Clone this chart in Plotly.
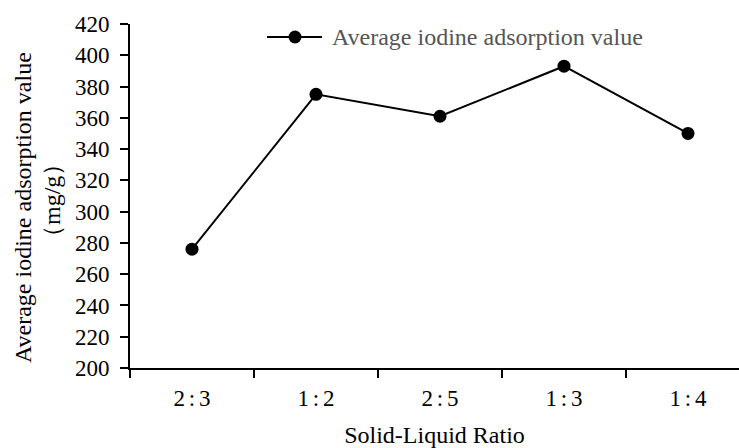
import plotly.graph_objects as go

# Solid-liquid ratios tested and the mean iodine adsorption value at each (mg/g)
ratios = ["2:3", "1:2", "2:5", "1:3", "1:4"]
iodine_values = [276, 375, 361, 393, 350]
y_tick_values = list(range(200, 421, 20))

series_name = "Average iodine adsorption value"
x_title = "Solid-Liquid Ratio"
y_title_lines = ["Average iodine adsorption value", "\uff08mg/g\uff09"]

# ratio labels drawn with a little air around the colon
ratio_labels = [r.replace(":", "\u2006:\u2006") for r in ratios]

FONT = "Liberation Serif, Times New Roman, serif"
W, H = 739, 448
ML, MR, MT, MB = 130, 0, 24, 80
PW, PH = W - ML - MR, H - MT - MB


def px_x(px):
    return (px - ML) / PW


def px_y(py):
    return (H - MB - py) / PH


fig = go.Figure()
fig.add_trace(go.Scatter(
    x=ratio_labels,
    y=iodine_values,
    mode="lines+markers",
    name=series_name,
    line=dict(color="black", width=2),
    marker=dict(color="black", size=13),
    showlegend=False,
    cliponaxis=False,
))

# legend key: short line with a dot, followed by the series name
legend_y = px_y(37)
fig.add_shape(type="line", xref="paper", yref="paper",
              x0=px_x(267), x1=px_x(322), y0=legend_y, y1=legend_y,
              line=dict(color="black", width=2))
fig.add_shape(type="circle", xref="paper", yref="paper",
              xsizemode="pixel", ysizemode="pixel",
              xanchor=px_x(295), yanchor=legend_y,
              x0=-6.5, x1=6.5, y0=-6.5, y1=6.5,
              fillcolor="black", line=dict(color="black", width=0))
fig.add_annotation(xref="paper", yref="paper", x=px_x(330), y=legend_y,
                   xanchor="left", yanchor="middle", showarrow=False,
                   text=series_name, font=dict(family=FONT, size=24, color="#555555"))

# y-axis title, two rotated lines
for line_text, cx, cy in zip(y_title_lines, [23, 52], [208, 201]):
    fig.add_annotation(xref="paper", yref="paper", x=px_x(cx), y=px_y(cy),
                       xanchor="center", yanchor="middle", showarrow=False,
                       textangle=-90, text=line_text,
                       font=dict(family=FONT, size=24, color="black"))

fig.update_layout(
    width=W, height=H,
    margin=dict(l=ML, r=MR, t=MT, b=MB, pad=0),
    paper_bgcolor="white", plot_bgcolor="white",
    font=dict(family=FONT, size=23, color="black"),
    xaxis=dict(
        type="category",
        range=[-0.5, -0.5 + PW / 124.0],
        tickson="boundaries",
        ticks="outside", ticklen=8, tickwidth=2, tickcolor="black",
        ticklabelstandoff=8,
        showline=True, linecolor="black", linewidth=2,
        showgrid=False, zeroline=False,
        tickfont=dict(family=FONT, size=23, color="black"),
        title=dict(text=x_title, standoff=17,
                   font=dict(family=FONT, size=24, color="black")),
    ),
    yaxis=dict(
        range=[200, 420],
        tickvals=y_tick_values,
        ticks="outside", ticklen=8, tickwidth=2, tickcolor="black",
        ticklabelstandoff=6,
        showline=True, linecolor="black", linewidth=2,
        showgrid=False, zeroline=False,
        tickfont=dict(family=FONT, size=23, color="black"),
    ),
)

fig.write_html("out.html")
